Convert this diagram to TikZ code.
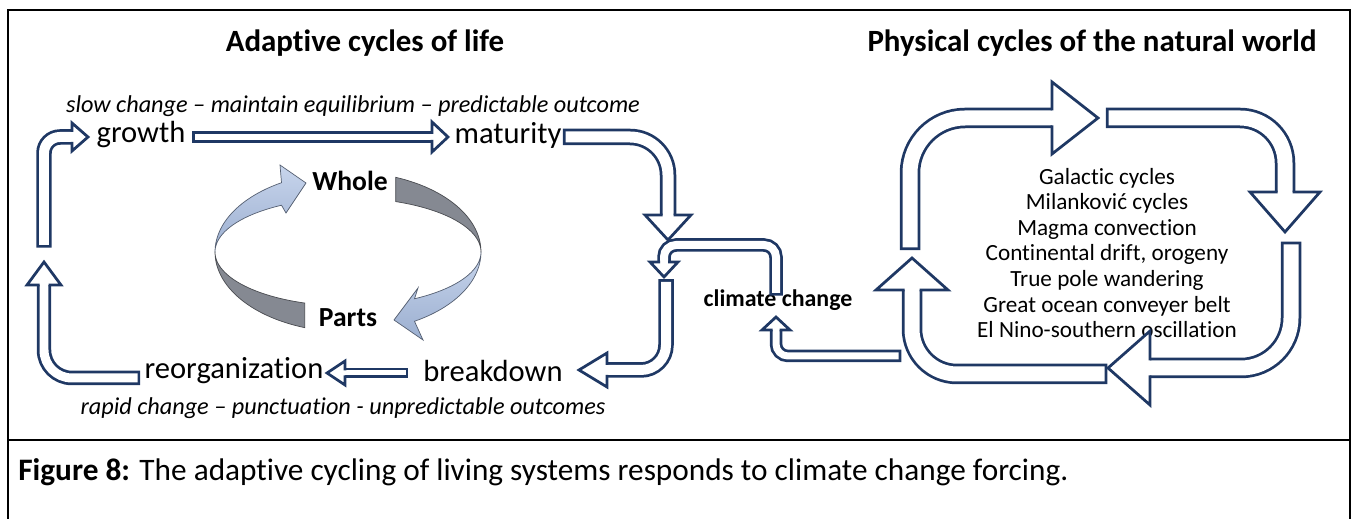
\documentclass[tikz,border=0pt]{standalone}
\usepackage{fontspec}
\setmainfont[Ligatures={TeX,NoCommon}, RawFeature=-liga, RawFeature=-calt, RawFeature=-clig, RawFeature=-dlig]{Carlito}
\usepackage{tikz}
\usetikzlibrary{calc}

\definecolor{navy}{HTML}{1F3864}
\definecolor{ringblue}{HTML}{A9BEE2}
\definecolor{ringgrey}{HTML}{858992}

% head of a block arrow: tip, direction, length, half width, half shaft
\newcommand\blockhead[5]{%
  \filldraw[headstyle, shift={(#1)}, rotate=#2]
    (-#3,#5) -- (-#3,#4) -- (0,0) -- (-#3,-#4) -- (-#3,-#5);
}

\begin{document}
\begin{tikzpicture}[
		x=0.02cm, y=-0.02cm,
		inner sep=0pt,
		shaft/.style={
				draw=navy,
				line width=0.55mm,
				double=white,
				double distance=#1,
				line cap=rect
			},
		headstyle/.style={
				draw=navy,
				fill=white,
				line width=0.55mm,
				line join=miter
			},
		frame/.style={draw=black, line width=1.5pt},
		title/.style={font=\bfseries\fontsize{17.6}{21}\selectfont},
		stage/.style={font=\fontsize{17.4}{21}\selectfont},
		note/.style={font=\itshape\fontsize{13.8}{17}\selectfont},
		ringlabel/.style={font=\bfseries\fontsize{15.7}{19}\selectfont},
		listtext/.style={font=\fontsize{13.2}{14.6}\selectfont, align=center},
		caption/.style={font=\fontsize{17.8}{21}\selectfont},
		bluering/.style={top color=ringblue!65!white, bottom color=ringblue!92!black, draw=ringblue!50!black, line width=0.4pt},
		greyring/.style={fill=ringgrey, draw=ringgrey!55!black, line width=0.4pt},
		]

		\useasboundingbox (0,0) rectangle (1353,519);

		% frame and caption box
		\draw[frame] (8,10) rectangle (1350,540);
		\draw[frame] (8,440) -- (1350,440);

		% titles
		\node[title] (life) at (365,43) {Adaptive cycles of life};
		\node[title] (world) at (1092,43) {Physical cycles of the natural world};

		% the adaptive cycle
		\node[note] (slow) at (353,106) {slow change – maintain equilibrium – predictable outcome};
		\node[stage] (growth) at (141,135) {growth};
		\node[stage] (maturity) at (508,135) {maturity};
		\node[stage] (breakdown) at (493,371) {breakdown};
		\node[stage] (reorg) at (234,371) {reorganization};
		\node[note] (rapid) at (343,408) {rapid change – punctuation - unpredictable outcomes};

		\coordinate (tipA) at (88,137);
		\draw[shaft=2mm, rounded corners=3.2mm] (44,240) -- (44,137) -- (72,137);
		\blockhead{tipA}{0}{16}{14}{5}

		\coordinate (tipB) at (448,137);
		\draw[shaft=1.2mm] (198,137) -- (432,137);
		\blockhead{tipB}{0}{16}{15}{3}

		\coordinate (tipC) at (668,240);
		\draw[shaft=2.2mm, rounded corners=7.6mm] (571,137) -- (668,137) -- (668,215);
		\blockhead{tipC}{-90}{25}{23}{5.5}

		\coordinate (tipE) at (579,370);
		\draw[shaft=2mm, rounded corners=5mm] (666,287) -- (666,370) -- (607,370);
		\blockhead{tipE}{180}{28}{17}{5}

		\coordinate (tipF) at (327,373);
		\draw[shaft=1mm] (403,373) -- (345,373);
		\blockhead{tipF}{180}{18}{12}{2.5}

		\coordinate (tipG) at (44,262);
		\draw[shaft=1.8mm, rounded corners=5.6mm] (133,378) -- (44,378) -- (44,285);
		\blockhead{tipG}{90}{23}{17}{4.5}

		% whole and parts ring
		\filldraw[greyring]
			plot[variable=\t, domain=180:109, samples=30] ({348+133*cos(\t)},{252+80*sin(\t)})
			-- plot[variable=\t, domain=109:180, samples=30] ({348+133*cos(\t)},{252+54*sin(\t)}) -- cycle;
		\filldraw[greyring]
			plot[variable=\t, domain=291:360, samples=30] ({348+133*cos(\t)},{252+80*sin(\t)})
			-- plot[variable=\t, domain=360:291, samples=30] ({348+133*cos(\t)},{252+54*sin(\t)}) -- cycle;
		\shadedraw[bluering]
			plot[variable=\t, domain=180:240, samples=30] ({348+133*cos(\t)},{252+80*sin(\t)})
			-- (280,165) -- (306,183) -- (286,213)
			-- plot[variable=\t, domain=240:180, samples=30] ({348+133*cos(\t)},{252+54*sin(\t)}) -- cycle;
		\shadedraw[bluering]
			plot[variable=\t, domain=0:60, samples=30] ({348+133*cos(\t)},{252+80*sin(\t)})
			-- (423,340) -- (394,320) -- (418,288)
			-- plot[variable=\t, domain=60:0, samples=30] ({348+133*cos(\t)},{252+54*sin(\t)}) -- cycle;
		\node[ringlabel] (whole) at (350,181) {Whole};
		\node[ringlabel] (parts) at (348,318) {Parts};

		% climate change link
		\node[font=\bfseries\fontsize{13.6}{17}\selectfont] (climate) at (778,300) {climate change};

		\coordinate (tipD) at (664,277);
		\draw[shaft=1.6mm, rounded corners=2.4mm] (776,289) -- (776,245) -- (664,245) -- (664,262);
		\blockhead{tipD}{-90}{15}{14}{4}

		\coordinate (tipL) at (776,317);
		\draw[shaft=1.4mm, rounded corners=2.4mm] (895,356) -- (776,356) -- (776,330);
		\blockhead{tipL}{90}{13}{14}{3.5}

		% physical cycles
		\node[listtext] (drivers) at (1107,253) {Galactic cycles\\Milanković  cycles\\Magma convection\\Continental drift, orogeny\\True pole wandering\\Great ocean conveyer belt\\El Nino-southern oscillation};

		\coordinate (tipH) at (1098,118);
		\draw[shaft=3mm, rounded corners=11mm] (910,240) -- (910,118) -- (1052,118);
		\blockhead{tipH}{0}{46}{36}{7.5}

		\coordinate (tipI) at (1285,232);
		\draw[shaft=3mm, rounded corners=9mm] (1116,118) -- (1285,118) -- (1285,192);
		\blockhead{tipI}{-90}{40}{35}{7.5}

		\coordinate (tipJ) at (1108,368);
		\draw[shaft=3mm, rounded corners=10mm] (1291,252) -- (1291,368) -- (1150,368);
		\blockhead{tipJ}{180}{42}{37}{7.5}

		\coordinate (tipK) at (912,258);
		\draw[shaft=3mm, rounded corners=9mm] (1097,374) -- (912,374) -- (912,290);
		\blockhead{tipK}{90}{32}{36}{7.5}

		% caption
		\node[caption, anchor=west] (fig) at (18,472) {\textbf{Figure 8:} The adaptive cycling of living systems responds to climate change forcing.};

	\end{tikzpicture}
\end{document}
